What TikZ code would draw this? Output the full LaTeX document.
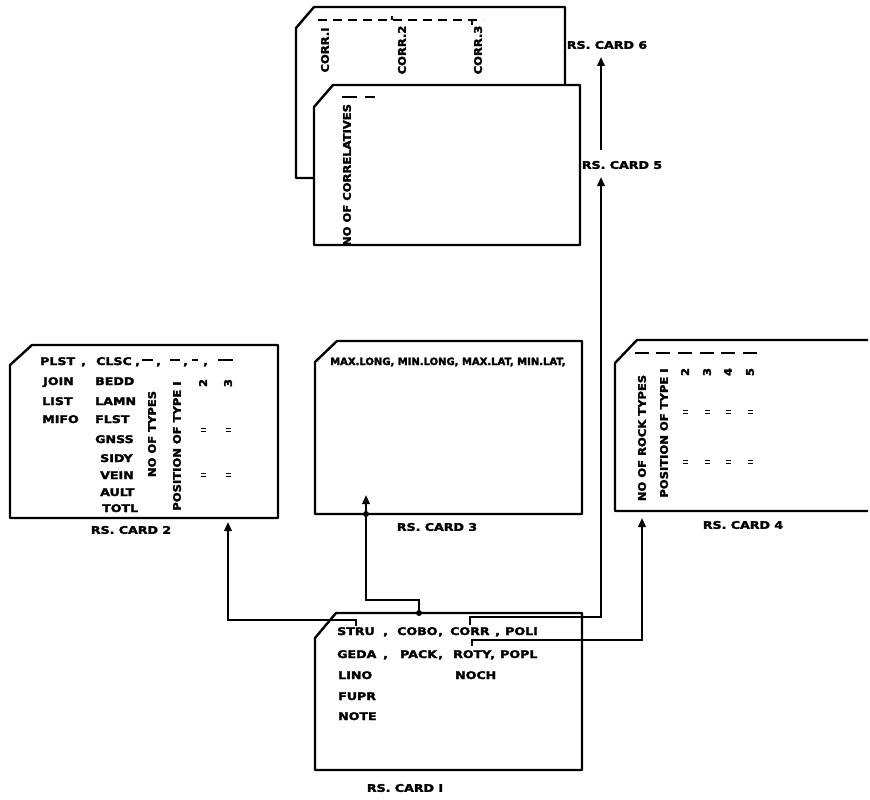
\documentclass[tikz,border=0pt]{standalone}
\usepackage{fontspec}
\newfontfamily\cardfont[FakeStretch=1.2,FakeBold=2.5]{DejaVu Sans}
\newfontfamily\cardrot[FakeStretch=1.1,FakeBold=2.5]{DejaVu Sans}
\newfontfamily\cardnarrow[FakeBold=2.5]{DejaVu Sans}
\usetikzlibrary{arrows.meta}
\newcommand\cf{\cardfont\bfseries\fontsize{10.5}{11}\selectfont}
\newcommand\cfr{\cardrot\bfseries\fontsize{10.5}{11}\selectfont}
\newcommand\cfn{\cardnarrow\bfseries\fontsize{10}{11}\selectfont}
\newcommand\cardtok[4]{\node[tk] (#1) at (#2,#3) {#4};}
\begin{document}
\begin{tikzpicture}[x=1pt,y=-1pt,
 card/.style={draw, line width=2.4pt, fill=white, line join=round},
 tk/.style={font=\cf, inner sep=0pt, anchor=base west},
 rt/.style={font=\cfr, inner sep=0pt, rotate=90},
 lab/.style={font=\cf, inner sep=1pt},
 arr/.style={line width=2pt, -{Triangle[width=7.5pt,length=9pt]}},
 dsh/.style={line width=2.2pt},
 dot/.style={circle, fill, inner sep=0pt, minimum size=6pt},
 dittomark/.pic={\draw[line width=1.5pt] (-2.5,-1.6) -- (2.5,-1.6) (-2.5,1.6) -- (2.5,1.6);}
]
\useasboundingbox[fill=white] (0,0) rectangle (870,800);

% ---------- RS card 6 (behind) ----------
\draw[card] (314,7) -- (565,7) -- (565,178) -- (296,178) -- (296,28) -- cycle;
\draw[line width=2.2pt, dash pattern=on 9pt off 6pt] (318,20) -- (483,20);
\draw[dsh] (392,20) -- (392,16);
\draw[dsh] (472,20) -- (472,25);
\node[rt] (corrA) at (325,50) {CORR.I};
\node[rt] (corrB) at (402,50) {CORR.2};
\node[rt] (corrC) at (478,50) {CORR.3};

% ---------- RS card 5 ----------
\draw[card] (333,85) -- (580,85) -- (580,245) -- (314,245) -- (314,107) -- cycle;
\draw[dsh] (342,97) -- (357,97);
\draw[dsh] (365,97) -- (375,97);
\node[rt] (ncorr) at (347,175) {NO OF CORRELATIVES};

\node[lab] (rs6) at (607,45) {RS. CARD 6};
\node[lab] (rs5) at (622,165) {RS. CARD 5};

% ---------- RS card 2 ----------
\draw[card] (32,345) -- (278,345) -- (278,518) -- (10,518) -- (10,365) -- cycle;
\cardtok{plst}{40}{365}{PLST}
\cardtok{cmA}{81}{365}{,}
\cardtok{clsc}{96}{365}{CLSC}
\cardtok{cmB}{135}{365}{,}
\draw[dsh] (142,360) -- (153,360);
\cardtok{cmC}{156}{365}{,}
\draw[dsh] (170,360) -- (180,360);
\cardtok{cmD}{183}{365}{,}
\draw[dsh] (192,360) -- (198,360);
\cardtok{cmE}{203}{365}{,}
\draw[dsh] (218,360) -- (233,360);
\cardtok{join}{43}{385}{JOIN}
\cardtok{bedd}{95}{385}{BEDD}
\cardtok{list}{42}{405}{LIST}
\cardtok{lamn}{95}{405}{LAMN}
\cardtok{mifo}{42}{423}{MIFO}
\cardtok{flst}{95}{423}{FLST}
\cardtok{gnss}{95}{443}{GNSS}
\cardtok{sidy}{100}{462}{SIDY}
\cardtok{vein}{100}{479}{VEIN}
\cardtok{ault}{100}{496}{AULT}
\cardtok{totl}{102}{512}{TOTL}
\node[rt] (ntypes) at (152,434) {NO OF TYPES};
\node[rt] (ptypeA) at (177,446) {POSITION OF TYPE I};
\node[rt] (cbtwo) at (203,383) {2};
\node[rt] (cbthree) at (228,383) {3};
\foreach \c in {203,228} {
  \pic at (\c,430) {dittomark};
  \pic at (\c,475) {dittomark};
}
\node[lab] (rs2) at (131,530) {RS. CARD 2};

% ---------- RS card 3 ----------
\draw[card] (337,341) -- (582,341) -- (582,514) -- (315,514) -- (315,362) -- cycle;
\node[tk, font=\cfn] (limits) at (330,365) {MAX.LONG, MIN.LONG, MAX.LAT, MIN.LAT,};
\node[lab] (rs3) at (437,527) {RS. CARD 3};

% ---------- RS card 4 ----------
\draw[card, fill=none] (868,340) -- (637,340) -- (615,363) -- (615,511) -- (868,511);
\foreach \c in {642,663,685,707,728,750} \draw[dsh] (\c-7,353) -- (\c+7,353);
\node[rt] (nrock) at (642,438) {NO OF ROCK TYPES};
\node[rt] (ptypeB) at (664,433) {POSITION OF TYPE I};
\node[rt] (cdtwo) at (685,372) {2};
\node[rt] (cdthree) at (707,372) {3};
\node[rt] (cdfour) at (728,372) {4};
\node[rt] (cdfive) at (750,372) {5};
\foreach \c in {685,707,728,750} {
  \pic at (\c,412) {dittomark};
  \pic at (\c,462) {dittomark};
}
\node[lab] (rs4) at (743,525) {RS. CARD 4};

% ---------- RS card 1 ----------
\draw[card] (336,613) -- (582,613) -- (582,770) -- (315,770) -- (315,638) -- cycle;
\cardtok{stru}{337}{635}{STRU}
\cardtok{kA}{383}{635}{,}
\cardtok{cobo}{397}{635}{COBO}
\cardtok{kB}{438}{635}{,}
\cardtok{corr}{450}{635}{CORR}
\cardtok{kC}{495}{635}{,}
\cardtok{poli}{505}{635}{POLI}
\cardtok{geda}{337}{658}{GEDA}
\cardtok{kD}{383}{658}{,}
\cardtok{pack}{400}{658}{PACK}
\cardtok{kE}{438}{658}{,}
\cardtok{roty}{453}{658}{ROTY}
\cardtok{kF}{490}{658}{,}
\cardtok{popl}{500}{658}{POPL}
\cardtok{lino}{338}{679}{LINO}
\cardtok{noch}{455}{679}{NOCH}
\cardtok{fupr}{338}{700}{FUPR}
\cardtok{note}{338}{720}{NOTE}
\node[lab] (rs1) at (405,788) {RS. CARD I};

% ---------- connectors ----------
\coordinate (kcA) at (228,620);
\coordinate (tcA) at (228,522);
\draw[arr, shorten <=1pt] (stru.north) |- (kcA) -- (tcA);

\coordinate (jA) at (419,613);
\coordinate (kcB) at (366,600);
\coordinate (tcB) at (366,495);
\coordinate (jB) at (366,514);
\draw[arr] (jA) |- (kcB) -- (tcB);
\node[dot] (dotA) at (jA) {};
\node[dot] (dotB) at (jB) {};

\coordinate (kcC) at (601,617);
\coordinate (tcC) at (601,177);
\draw[arr, shorten <=2pt] (corr.north) |- (kcC) -- (tcC);

\coordinate (scD) at (601,150);
\coordinate (tcD) at (601,57);
\draw[arr] (scD) -- (tcD);

\coordinate (kcE) at (642,640);
\coordinate (tcE) at (642,518);
\draw[arr, shorten <=4pt] (roty.north) |- (kcE) -- (tcE);
\end{tikzpicture}
\end{document}
